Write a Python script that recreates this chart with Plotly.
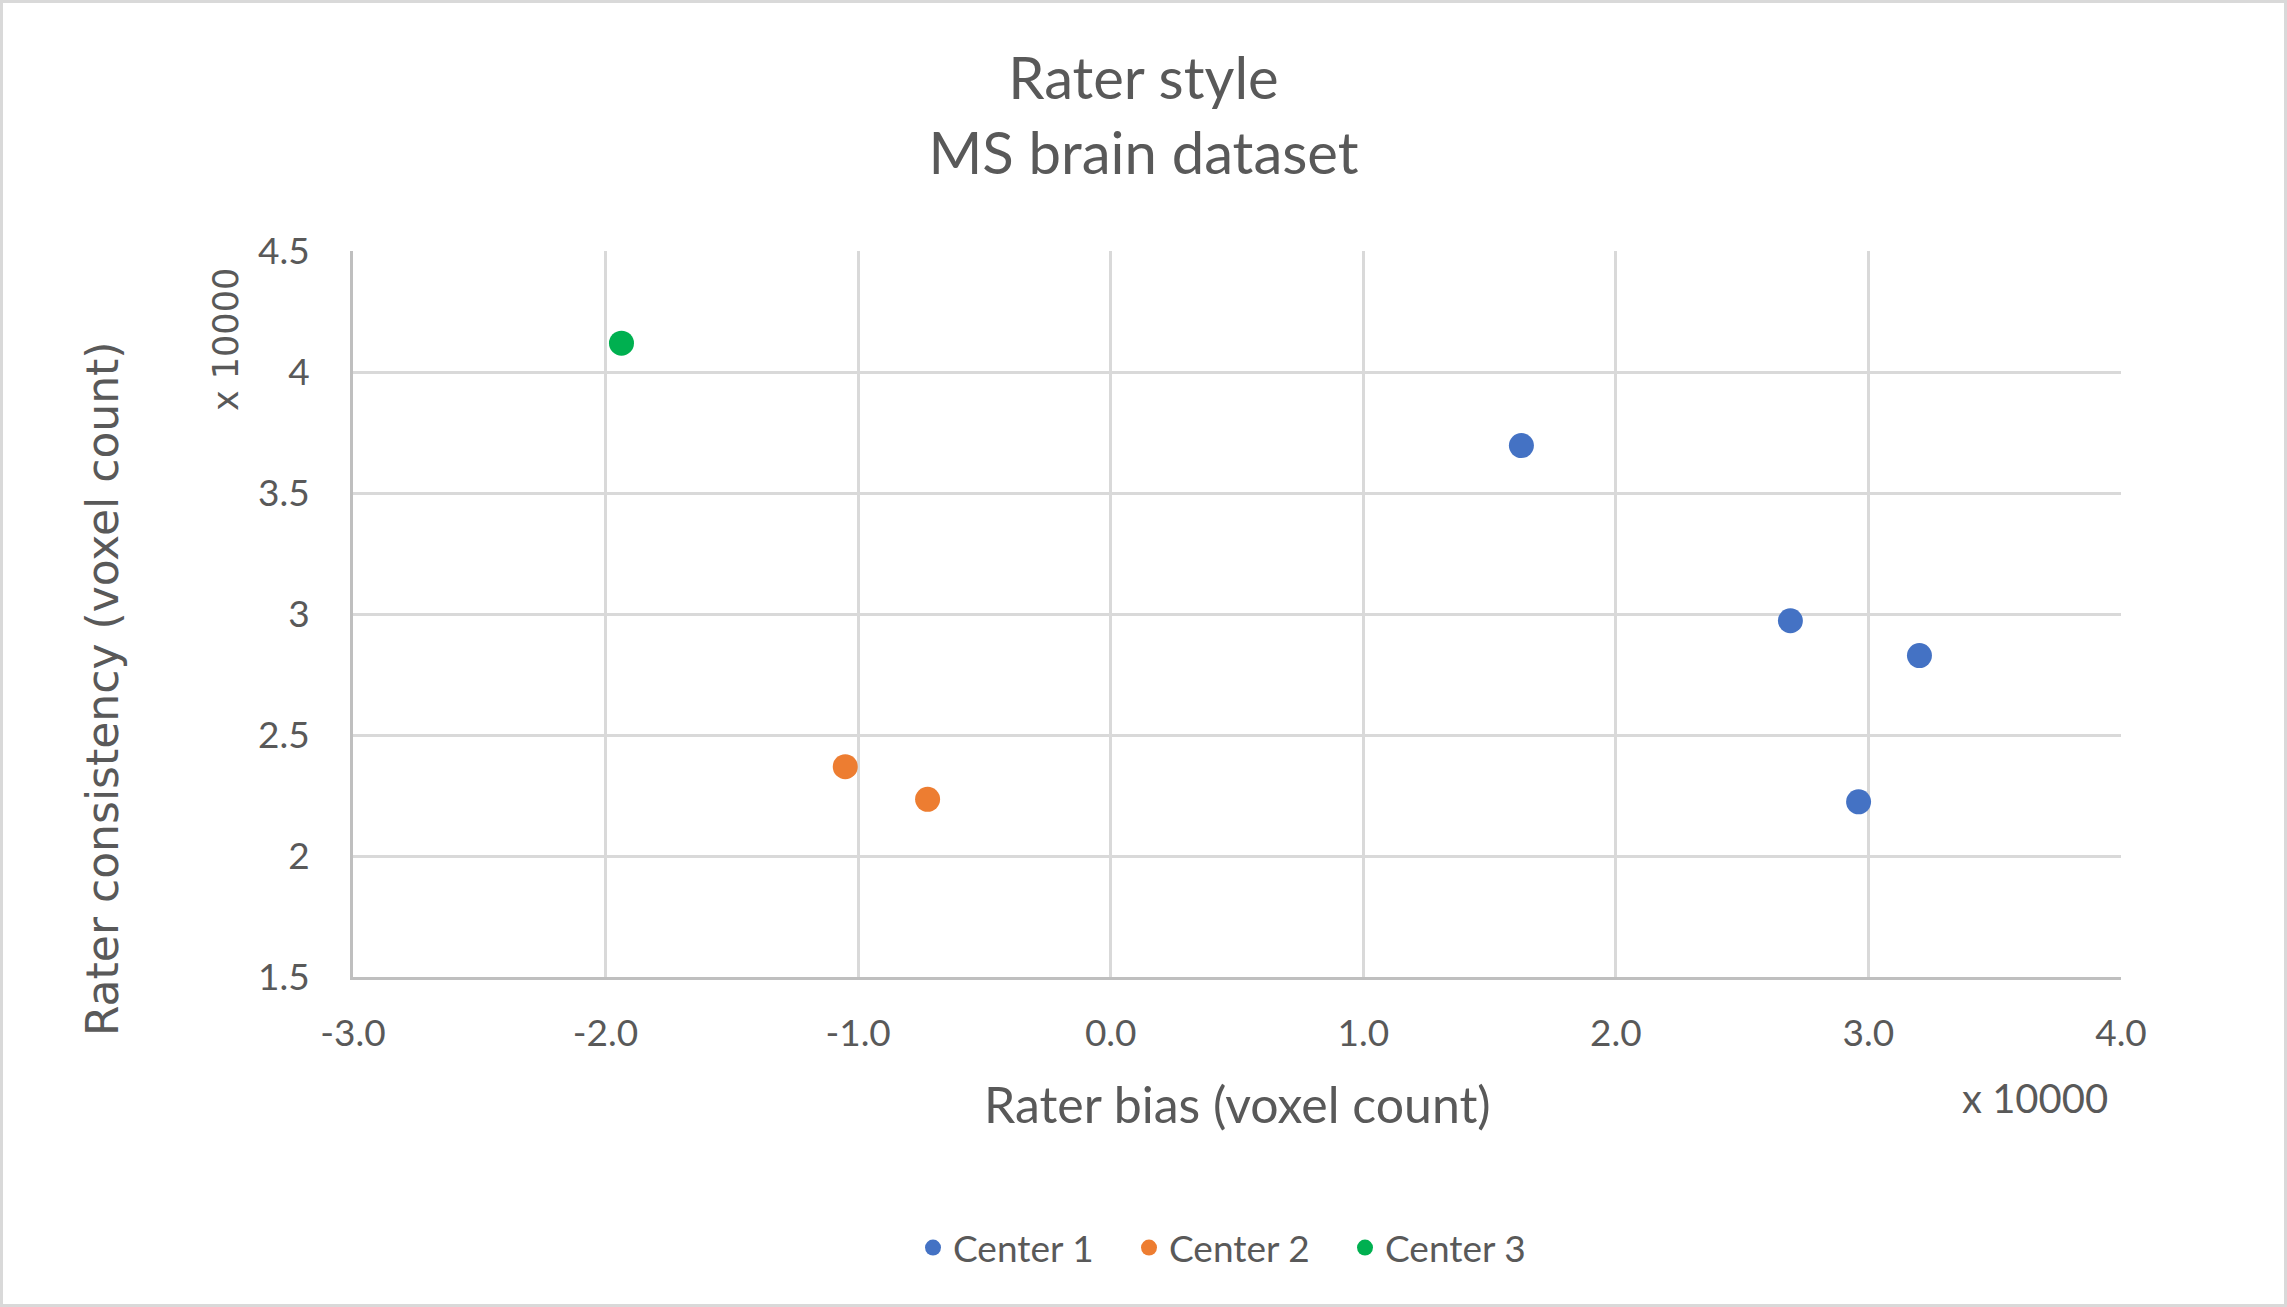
import plotly.graph_objects as go

# values are in units of 10000 voxels
c1_bias = [1.626, 2.691, 3.202, 2.961]
c1_consistency = [3.696, 2.972, 2.828, 2.224]
c2_bias = [-1.051, -0.725]
c2_consistency = [2.369, 2.234]
c3_bias = [-1.937]
c3_consistency = [4.119]

x_ticks = [-3, -2, -1, 0, 1, 2, 3, 4]
x_tick_labels = ["-3.0", "-2.0", "-1.0", "0.0", "1.0", "2.0", "3.0", "4.0"]
y_ticks = [1.5, 2, 2.5, 3, 3.5, 4, 4.5]
y_tick_labels = ["1.5", "2", "2.5", "3", "3.5", "4", "4.5"]

W, H = 2287, 1307
L, R, T, B = 353, 166, 251, 330
PW = W - L - R
PH = H - T - B

TXT = "#595959"
FONT = "Lato, 'Open Sans', sans-serif"
FONT_WIDE = "'DejaVu Sans', Verdana, sans-serif"


def px_x(px):
    return (px - L) / PW


def px_y(py):
    return (H - B - py) / PH


fig = go.Figure()
series = [
    ("Center 1", c1_bias, c1_consistency, "#4472C4"),
    ("Center 2", c2_bias, c2_consistency, "#ED7D31"),
    ("Center 3", c3_bias, c3_consistency, "#00B050"),
]
for name, xs, ys, col in series:
    fig.add_trace(go.Scatter(
        x=xs, y=ys, mode="markers", name=name,
        marker=dict(size=25, color=col, line_width=0),
    ))

fig.update_layout(
    width=W, height=H,
    margin=dict(l=L, r=R, t=T, b=B),
    paper_bgcolor="white",
    plot_bgcolor="white",
    font=dict(family=FONT, color=TXT, size=37),
    title=dict(
        text="Rater style<br>MS brain dataset",
        x=0.5, xref="container", xanchor="center",
        y=1 - 99 / H, yref="container", yanchor="middle",
        font=dict(family=FONT, size=58, color=TXT),
    ),
    showlegend=True,
    legend=dict(
        orientation="h", x=0.5, xanchor="center",
        y=px_y(1248), yanchor="middle",
        font=dict(family=FONT, size=37, color=TXT),
        itemwidth=30, entrywidth=171,
    ),
    xaxis=dict(
        range=[-3, 4], tickvals=x_ticks, ticktext=x_tick_labels,
        showgrid=True, gridcolor="#d9d9d9", gridwidth=3,
        zeroline=False, showline=True, linecolor="#bfbfbf", linewidth=3,
        ticks="", ticklabelstandoff=22,
        tickfont=dict(family=FONT, size=37, color=TXT),
    ),
    yaxis=dict(
        range=[1.5, 4.5], tickvals=y_ticks, ticktext=y_tick_labels,
        showgrid=True, gridcolor="#d9d9d9", gridwidth=3,
        zeroline=False, showline=True, linecolor="#bfbfbf", linewidth=3,
        ticks="", ticklabelstandoff=33,
        tickfont=dict(family=FONT, size=37, color=TXT),
    ),
)

# axis titles and multiplier labels
fig.add_annotation(
    text="Rater bias (voxel count)", xref="paper", yref="paper",
    x=px_x(1237), y=px_y(1104), showarrow=False,
    xanchor="center", yanchor="middle",
    font=dict(family=FONT, size=50, color=TXT),
)
fig.add_annotation(
    text="Rater consistency (voxel count)", xref="paper", yref="paper",
    x=px_x(102), y=px_y(689), showarrow=False, textangle=-90,
    xanchor="center", yanchor="middle",
    font=dict(family=FONT_WIDE, size=44, color=TXT),
)
fig.add_annotation(
    text="x 10000", xref="paper", yref="paper",
    x=px_x(226), y=px_y(340), showarrow=False, textangle=-90,
    xanchor="center", yanchor="middle",
    font=dict(family=FONT_WIDE, size=35, color=TXT),
)
fig.add_annotation(
    text="x 10000", xref="paper", yref="paper",
    x=px_x(2035), y=px_y(1098), showarrow=False,
    xanchor="center", yanchor="middle",
    font=dict(family=FONT, size=40, color=TXT),
)

# chart border
fig.add_shape(
    type="rect", xref="paper", yref="paper",
    x0=px_x(1.5), x1=px_x(W - 1.5), y0=px_y(H - 1.5), y1=px_y(1.5),
    line=dict(color="#d9d9d9", width=3), layer="below",
)

# the page body has a default 8px margin; drop it so the chart fills the window
fig.write_html(
    "out.html",
    config={"displayModeBar": False},
    post_script="document.body.style.margin='0';document.body.style.overflow='hidden';",
)
